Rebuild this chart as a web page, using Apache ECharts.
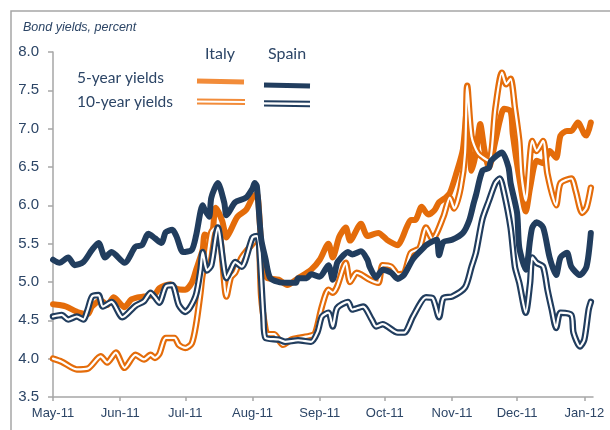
<!DOCTYPE html>
<html>
<head>
<meta charset="utf-8">
<script src="https://cdn.jsdelivr.net/npm/echarts@6/dist/echarts.min.js"></script>
<style>
html,body{margin:0;padding:0;background:#fff;}
#chart{width:610px;height:430px;}
</style>
</head>
<body>
<div id="chart"></div>
<script>
// ---- Data ----
const monthNames = ['Jan','Feb','Mar','Apr','May','Jun','Jul','Aug','Sep','Oct','Nov','Dec'];
const yTicks = [3.5, 4.0, 4.5, 5.0, 5.5, 6.0, 6.5, 7.0, 7.5, 8.0];

const italy5 = [
['2011-05-01',4.71],['2011-05-04',4.70],['2011-05-07',4.68],['2011-05-13',4.60],['2011-05-17',4.58],
['2011-05-19',4.68],['2011-05-23',4.76],['2011-05-26',4.70],['2011-05-29',4.80],['2011-06-03',4.67],
['2011-06-06',4.77],['2011-06-09',4.80],['2011-06-12',4.81],['2011-06-17',4.84],['2011-06-19',4.92],
['2011-06-24',4.97],['2011-06-27',4.91],['2011-07-01',4.90],['2011-07-04',4.99],['2011-07-06',5.16],
['2011-07-09',5.42],['2011-07-10',5.62],['2011-07-13',5.58],['2011-07-15',5.97],['2011-07-18',5.80],
['2011-07-20',5.58],['2011-07-22',5.68],['2011-07-25',5.85],['2011-07-29',5.94],['2011-08-01',6.10],
['2011-08-03',6.15],['2011-08-05',5.50],['2011-08-07',5.10],['2011-08-08',5.05],['2011-08-13',5.03],
['2011-08-17',4.96],['2011-08-22',5.05],['2011-08-28',5.16],['2011-09-01',5.29],['2011-09-05',5.50],
['2011-09-07',5.32],['2011-09-10',5.59],['2011-09-13',5.71],['2011-09-15',5.54],['2011-09-20',5.76],
['2011-09-23',5.60],['2011-09-28',5.64],['2011-10-02',5.55],['2011-10-05',5.50],['2011-10-07',5.48],
['2011-10-09',5.57],['2011-10-11',5.71],['2011-10-13',5.81],['2011-10-15',5.81],['2011-10-18',5.98],
['2011-10-21',5.88],['2011-10-24',5.94],['2011-10-26',6.04],['2011-10-29',6.10],['2011-10-31',6.16],
['2011-11-03',6.42],['2011-11-06',6.73],['2011-11-08',7.30],['2011-11-09',6.84],['2011-11-10',6.45],
['2011-11-12',6.68],['2011-11-14',7.06],['2011-11-16',6.71],['2011-11-18',6.49],['2011-11-21',6.84],
['2011-11-23',7.10],['2011-11-25',7.26],['2011-11-28',7.23],['2011-11-29',6.93],['2011-12-02',6.36],
['2011-12-05',5.92],['2011-12-07',6.23],['2011-12-10',6.58],['2011-12-13',6.55],['2011-12-16',6.71],
['2011-12-19',6.62],['2011-12-21',6.91],['2011-12-24',6.97],['2011-12-26',6.97],['2011-12-29',7.08],
['2012-01-01',6.93],['2012-01-02',6.91],['2012-01-04',7.08]
];

const italy10 = [
['2011-05-01',4.00],['2011-05-05',3.96],['2011-05-12',3.86],['2011-05-17',3.87],['2011-05-23',4.03],
['2011-05-26',3.95],['2011-05-30',4.08],['2011-06-03',3.88],['2011-06-08',4.05],['2011-06-12',3.99],
['2011-06-15',4.05],['2011-06-17',4.01],['2011-06-19',4.06],['2011-06-22',4.27],['2011-06-26',4.27],
['2011-06-28',4.18],['2011-07-01',4.14],['2011-07-04',4.20],['2011-07-06',4.45],['2011-07-08',4.86],
['2011-07-09',5.10],['2011-07-11',5.30],['2011-07-13',5.65],['2011-07-15',5.71],['2011-07-17',5.60],
['2011-07-20',4.81],['2011-07-22',5.06],['2011-07-24',5.12],['2011-07-27',5.32],['2011-08-01',5.50],
['2011-08-03',5.58],['2011-08-04',5.52],['2011-08-05',4.81],['2011-08-07',4.38],['2011-08-08',4.32],
['2011-08-11',4.32],['2011-08-15',4.18],['2011-08-19',4.25],['2011-08-22',4.27],['2011-08-28',4.30],
['2011-08-30',4.34],['2011-09-02',4.68],['2011-09-05',4.90],['2011-09-07',4.86],['2011-09-09',4.94],
['2011-09-13',5.25],['2011-09-15',5.00],['2011-09-18',5.12],['2011-09-20',5.10],['2011-09-24',5.03],
['2011-09-28',4.99],['2011-09-30',5.22],['2011-10-04',5.20],['2011-10-07',5.10],['2011-10-10',5.12],
['2011-10-13',5.38],['2011-10-17',5.44],['2011-10-20',5.71],['2011-10-23',5.56],['2011-10-28',5.85],
['2011-10-31',6.10],['2011-11-02',5.96],['2011-11-05',6.23],['2011-11-07',6.68],['2011-11-08',7.56],
['2011-11-10',6.90],['2011-11-13',6.68],['2011-11-18',6.58],['2011-11-21',7.27],['2011-11-24',7.73],
['2011-11-26',7.58],['2011-11-28',7.65],['2011-11-30',7.27],['2011-12-02',6.84],['2011-12-03',6.40],
['2011-12-05',6.06],['2011-12-08',6.84],['2011-12-10',6.71],['2011-12-13',6.84],['2011-12-15',6.41],
['2011-12-19',6.00],['2011-12-21',6.29],['2011-12-26',6.35],['2011-12-28',6.19],['2011-12-31',5.90],
['2012-01-02',5.97],['2012-01-04',6.23]
];

const spain5 = [
['2011-05-01',5.29],['2011-05-04',5.25],['2011-05-08',5.32],['2011-05-11',5.22],['2011-05-15',5.26],
['2011-05-19',5.42],['2011-05-22',5.51],['2011-05-25',5.32],['2011-05-28',5.39],['2011-06-03',5.25],
['2011-06-08',5.46],['2011-06-11',5.48],['2011-06-14',5.63],['2011-06-17',5.57],['2011-06-20',5.51],
['2011-06-22',5.65],['2011-06-25',5.68],['2011-06-27',5.59],['2011-06-30',5.39],['2011-07-04',5.42],
['2011-07-06',5.61],['2011-07-09',6.00],['2011-07-10',5.94],['2011-07-12',5.85],['2011-07-13',6.10],
['2011-07-16',6.29],['2011-07-19',6.03],['2011-07-20',5.87],['2011-07-24',6.04],['2011-07-29',6.10],
['2011-08-01',6.22],['2011-08-02',6.29],['2011-08-03',6.25],['2011-08-05',5.56],['2011-08-07',5.30],
['2011-08-09',5.06],['2011-08-13',5.00],['2011-08-17',4.99],['2011-08-21',4.99],['2011-08-22',5.05],
['2011-08-26',5.05],['2011-08-28',5.10],['2011-09-01',5.07],['2011-09-05',5.22],['2011-09-07',5.03],
['2011-09-09',5.25],['2011-09-10',5.29],['2011-09-14',5.39],['2011-09-16',5.36],['2011-09-20',5.40],
['2011-09-23',5.29],['2011-09-24',5.20],['2011-09-27',5.06],['2011-09-30',5.16],['2011-10-04',5.12],
['2011-10-07',5.04],['2011-10-10',5.10],['2011-10-14',5.30],['2011-10-19',5.45],['2011-10-20',5.48],
['2011-10-23',5.53],['2011-10-25',5.55],['2011-10-26',5.35],['2011-10-28',5.52],['2011-11-01',5.55],
['2011-11-06',5.64],['2011-11-09',5.81],['2011-11-11',6.03],['2011-11-12',6.13],['2011-11-15',6.45],
['2011-11-18',6.49],['2011-11-19',6.58],['2011-11-24',6.69],['2011-11-27',6.50],['2011-11-28',6.29],
['2011-12-01',5.90],['2011-12-02',5.45],['2011-12-05',5.16],['2011-12-07',5.55],['2011-12-08',5.71],
['2011-12-10',5.78],['2011-12-13',5.71],['2011-12-16',5.32],['2011-12-19',5.09],['2011-12-21',5.32],
['2011-12-24',5.38],['2011-12-26',5.20],['2011-12-30',5.09],['2012-01-02',5.20],['2012-01-04',5.64]
];

const spain10 = [
['2011-05-01',4.55],['2011-05-05',4.57],['2011-05-08',4.51],['2011-05-12',4.55],['2011-05-15',4.51],
['2011-05-17',4.64],['2011-05-19',4.81],['2011-05-22',4.83],['2011-05-24',4.68],['2011-05-28',4.74],
['2011-06-02',4.54],['2011-06-08',4.69],['2011-06-12',4.75],['2011-06-15',4.86],['2011-06-17',4.80],
['2011-06-19',4.73],['2011-06-22',4.94],['2011-06-25',4.96],['2011-06-28',4.70],['2011-07-01',4.61],
['2011-07-03',4.66],['2011-07-06',4.84],['2011-07-08',5.16],['2011-07-09',5.39],['2011-07-11',5.15],
['2011-07-13',5.22],['2011-07-16',5.71],['2011-07-20',5.05],['2011-07-22',5.16],['2011-07-24',5.26],
['2011-07-27',5.20],['2011-08-01',5.58],['2011-08-03',5.60],['2011-08-04',5.50],['2011-08-06',4.55],
['2011-08-07',4.27],['2011-08-13',4.25],['2011-08-16',4.22],['2011-08-22',4.24],['2011-08-28',4.22],
['2011-08-31',4.35],['2011-09-02',4.55],['2011-09-05',4.60],['2011-09-07',4.42],['2011-09-09',4.66],
['2011-09-14',4.74],['2011-09-16',4.64],['2011-09-21',4.68],['2011-09-25',4.51],['2011-09-27',4.42],
['2011-09-30',4.45],['2011-10-07',4.34],['2011-10-10',4.34],['2011-10-14',4.55],['2011-10-20',4.80],
['2011-10-23',4.79],['2011-10-26',4.54],['2011-10-28',4.79],['2011-11-01',4.81],['2011-11-07',4.93],
['2011-11-10',5.20],['2011-11-12',5.38],['2011-11-15',5.82],['2011-11-18',6.06],['2011-11-21',6.29],
['2011-11-23',6.35],['2011-11-25',6.16],['2011-11-28',5.71],['2011-11-30',5.20],['2011-12-02',4.99],
['2011-12-05',4.60],['2011-12-07',4.99],['2011-12-08',5.32],['2011-12-10',5.25],['2011-12-13',5.20],
['2011-12-15',4.90],['2011-12-17',4.64],['2011-12-19',4.40],['2011-12-21',4.60],['2011-12-26',4.57],
['2011-12-27',4.34],['2011-12-30',4.16],['2012-01-01',4.25],['2012-01-03',4.64],['2012-01-04',4.74]
];

// ---- Styles ----
const ORANGE = '#E46C0A';
const NAVY = '#213D5E';
const LEG_ORANGE = '#F28C3A';
const TEXT = '#2C4566';
const AXIS = '#A6A6A6';

function thick(name, data, color, z) {
  return { name, type:'line', data, showSymbol:false, smooth:0.25, z,
    lineStyle:{ color, width:6, cap:'round', join:'round' }, animation:false };
}
function dbl(name, data, color, z) {
  return [
    { name, type:'line', data, showSymbol:false, smooth:0.25, z,
      lineStyle:{ color, width:6.5, cap:'round', join:'round' }, animation:false },
    { name: name+' inner', type:'line', data, showSymbol:false, smooth:0.25, z:z+0.5,
      lineStyle:{ color:'#ffffff', width:2.2, cap:'round', join:'round' }, animation:false }
  ];
}

const chart = echarts.init(document.getElementById('chart'), null, {renderer:'canvas'});
chart.setOption({
  backgroundColor:'#ffffff',
  animation:false,
  grid:{ left:53, right:17, top:52, bottom:33 },
  xAxis:{
    type:'time',
    min:'2011-05-01', max:'2012-01-05',
    splitNumber:8,
    axisLine:{ lineStyle:{ color:AXIS, width:1.5 } },
    axisTick:{ show:true, length:4, lineStyle:{ color:AXIS, width:1.5 } },
    splitLine:{ show:false },
    axisLabel:{
      color:TEXT, fontFamily:'Liberation Sans', fontSize:13, margin:10,
      hideOverlap:false,
      formatter:function(v){ const d=new Date(v); return monthNames[d.getMonth()]+'-'+String(d.getFullYear()).slice(2); }
    }
  },
  yAxis:{
    type:'value', min:yTicks[0], max:yTicks[yTicks.length-1], interval:0.5,
    axisLine:{ show:true, lineStyle:{ color:AXIS, width:1.5 } },
    axisTick:{ show:true, length:5, lineStyle:{ color:AXIS, width:1.5 } },
    splitLine:{ show:false },
    axisLabel:{ color:TEXT, fontFamily:'Liberation Sans', fontSize:15, margin:14,
      formatter:function(v){ return v.toFixed(1); } }
  },
  series:[
    thick('Italy 5-year', italy5, ORANGE, 2),
    ...dbl('Italy 10-year', italy10, ORANGE, 3),
    ...dbl('Spain 10-year', spain10, NAVY, 4),
    thick('Spain 5-year', spain5, NAVY, 5)
  ],
  graphic:[
    { type:'rect', shape:{ x:11, y:11, width:640, height:460 }, style:{ fill:'none', stroke:'#A6A6A6', lineWidth:1.5 }, silent:true },
    { type:'text', x:23, y:21, style:{ text:'Bond yields, percent', fill:TEXT, font:'italic 12.5px "Liberation Sans"' } },
    { type:'text', x:220, y:46, style:{ text:'Italy', fill:TEXT, font:'16px Lato', align:'center' } },
    { type:'text', x:287, y:46, style:{ text:'Spain', fill:TEXT, font:'16px Lato', align:'center' } },
    { type:'text', x:77, y:70, style:{ text:'5-year yields', fill:TEXT, font:'15.5px Lato' } },
    { type:'text', x:77, y:94, style:{ text:'10-year yields', fill:TEXT, font:'15.5px Lato' } },
    { type:'line', shape:{ x1:197, y1:81, x2:244, y2:82 }, style:{ stroke:LEG_ORANGE, lineWidth:5 } },
    { type:'line', shape:{ x1:264, y1:85, x2:310, y2:86 }, style:{ stroke:NAVY, lineWidth:5 } },
    { type:'line', shape:{ x1:197, y1:99.5, x2:245, y2:100 }, style:{ stroke:LEG_ORANGE, lineWidth:2 } },
    { type:'line', shape:{ x1:197, y1:103.5, x2:245, y2:104 }, style:{ stroke:LEG_ORANGE, lineWidth:2 } },
    { type:'line', shape:{ x1:264, y1:101.2, x2:310, y2:101.8 }, style:{ stroke:NAVY, lineWidth:2 } },
    { type:'line', shape:{ x1:264, y1:105.6, x2:310, y2:106.2 }, style:{ stroke:NAVY, lineWidth:2 } }
  ]
});
</script>
</body>
</html>
